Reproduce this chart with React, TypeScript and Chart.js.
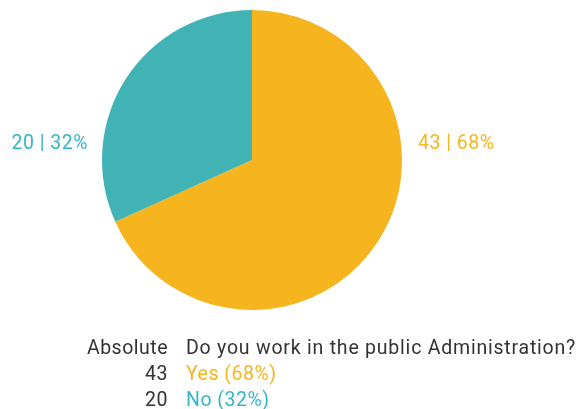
import React, { useEffect, useRef } from "react";
import { Chart, registerables } from "chart.js";

Chart.register(...registerables);

const categories = ["Yes", "No"];
const values = [43, 20];
const colors = ["#F6B41E", "#42B3B4"];
const labelColors = ["#F6B41E", "#35B6C8"];
const question = "Do you work in the public Administration?";
const absoluteHeader = "Absolute";

const FONT = "Roboto, 'DejaVu Sans', sans-serif";

const labelsPlugin = {
  id: "customLabels",
  afterDraw(chart: any) {
    const ctx = chart.ctx as CanvasRenderingContext2D;
    const meta = chart.getDatasetMeta(0);
    const total = values.reduce((a, b) => a + b, 0);
    ctx.save();
    ctx.font = `19.5px ${FONT}`;
    (ctx as any).letterSpacing = "0.5px";
    ctx.textBaseline = "middle";
    meta.data.forEach((arc: any, i: number) => {
      const mid = (arc.startAngle + arc.endAngle) / 2;
      const side = Math.cos(mid) >= 0 ? 1 : -1;
      const pct = Math.round((values[i] / total) * 100);
      const text = `${values[i]} | ${pct}%`;
      ctx.fillStyle = labelColors[i];
      ctx.textAlign = side > 0 ? "left" : "right";
      const x = arc.x + side * (arc.outerRadius + (side < 0 ? 14 : 16));
      const y = arc.y - 16;
      ctx.fillText(text, x, y);
    });
    // legend table
    const colX = 168;
    const textX = 186;
    let y = 349;
    ctx.textAlign = "right";
    ctx.fillStyle = "#333333";
    ctx.fillText(absoluteHeader, colX, y);
    ctx.textAlign = "left";
    (ctx as any).letterSpacing = "0.78px";
    ctx.fillText(question, textX, y);
    (ctx as any).letterSpacing = "0.5px";
    categories.forEach((c, i) => {
      y += 26;
      const pct = Math.round((values[i] / total) * 100);
      ctx.textAlign = "right";
      ctx.fillStyle = "#333333";
      ctx.fillText(String(values[i]), colX, y);
      ctx.textAlign = "left";
      ctx.fillStyle = labelColors[i];
      ctx.fillText(`${c} (${pct}%)`, textX, y);
    });
    ctx.restore();
  },
};

export default function App() {
  const ref = useRef<HTMLCanvasElement>(null);
  useEffect(() => {
    document.body.style.margin = "0";
    const chart = new Chart(ref.current!, {
      type: "pie",
      data: {
        labels: categories,
        datasets: [
          {
            data: values,
            backgroundColor: colors,
            borderWidth: 0,
          },
        ],
      },
      options: {
        animation: false,
        responsive: false,
        layout: { padding: { left: 102, right: 174, top: 10, bottom: 99 } },
        plugins: {
          legend: { display: false },
          tooltip: { enabled: false },
        },
      },
      plugins: [labelsPlugin],
    });
    return () => chart.destroy();
  }, []);
  return (
    <div style={{ width: 576, height: 409 }}>
      <canvas ref={ref} width={576} height={409} />
    </div>
  );
}
